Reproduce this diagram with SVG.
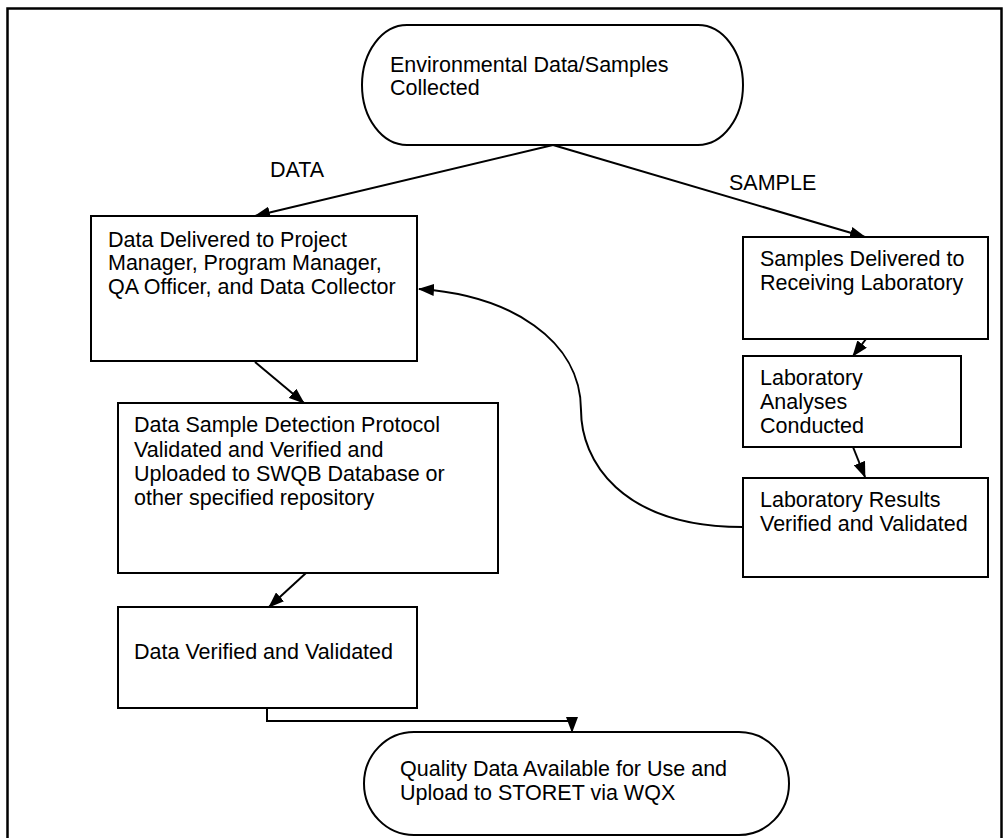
<svg xmlns="http://www.w3.org/2000/svg" width="1004" height="838" viewBox="0 0 1004 838">
  <style>
    .frame { fill: none; stroke: #000; stroke-width: 2.5; }
    .box { fill: #fff; stroke: #000; stroke-width: 2; }
    .lbl { font-family: "Liberation Sans", Arial, sans-serif; font-size: 21.5px; fill: #000; }
    .conn { fill: none; stroke: #000; stroke-width: 2; }
  </style>
  <defs>
    <marker id="arrow" markerUnits="userSpaceOnUse" markerWidth="16" markerHeight="12" refX="15" refY="6" orient="auto">
      <path d="M0,0 L16,6 L0,12 Z" fill="#000"/>
    </marker>
  </defs>

  <rect width="1004" height="838" fill="#fff"/>
  <rect class="frame" x="7.5" y="8.5" width="994" height="850"/>

  <!-- connectors -->
  <g id="connectors">
    <line class="conn" x1="553" y1="145" x2="255" y2="216" marker-end="url(#arrow)"/>
    <line class="conn" x1="553" y1="145" x2="865" y2="237" marker-end="url(#arrow)"/>
    <line class="conn" x1="866" y1="339" x2="853" y2="356" marker-end="url(#arrow)"/>
    <line class="conn" x1="853" y1="447" x2="865" y2="477" marker-end="url(#arrow)"/>
    <path class="conn" d="M743,527 C620,527 581,460 581,410 C581,340 510,295 419,289" marker-end="url(#arrow)"/>
    <line class="conn" x1="255" y1="362" x2="304" y2="403" marker-end="url(#arrow)"/>
    <line class="conn" x1="306" y1="573" x2="269" y2="607" marker-end="url(#arrow)"/>
    <path class="conn" d="M267,708 V721 H572 V732" marker-end="url(#arrow)"/>
    <text class="lbl" x="270" y="177">DATA</text>
    <text class="lbl" x="729" y="190">SAMPLE</text>
  </g>

  <g id="start">
    <rect class="box" x="362" y="25" width="381" height="120" rx="45" ry="60"/>
    <text class="lbl" x="390" y="72">Environmental Data/Samples</text>
    <text class="lbl" x="390" y="95">Collected</text>
  </g>

  <g id="data-delivered">
    <rect class="box" x="91" y="216" width="326" height="145"/>
    <text class="lbl" x="108" y="247">Data Delivered to Project</text>
    <text class="lbl" x="108" y="270">Manager, Program Manager,</text>
    <text class="lbl" x="108" y="294">QA Officer, and Data Collector</text>
  </g>

  <g id="samples-delivered">
    <rect class="box" x="743" y="237" width="245" height="102"/>
    <text class="lbl" x="760" y="266">Samples Delivered to</text>
    <text class="lbl" x="760" y="290">Receiving Laboratory</text>
  </g>

  <g id="lab-analyses">
    <rect class="box" x="743" y="356" width="218" height="91"/>
    <text class="lbl" x="760" y="385">Laboratory</text>
    <text class="lbl" x="760" y="409">Analyses</text>
    <text class="lbl" x="760" y="433">Conducted</text>
  </g>

  <g id="lab-results">
    <rect class="box" x="743" y="478" width="245" height="99"/>
    <text class="lbl" x="760" y="507">Laboratory Results</text>
    <text class="lbl" x="760" y="531">Verified and Validated</text>
  </g>

  <g id="protocol">
    <rect class="box" x="118" y="403" width="380" height="170"/>
    <text class="lbl" x="134" y="432">Data Sample Detection Protocol</text>
    <text class="lbl" x="134" y="457">Validated and Verified and</text>
    <text class="lbl" x="134" y="481">Uploaded to SWQB Database or</text>
    <text class="lbl" x="134" y="505">other specified repository</text>
  </g>

  <g id="data-verified">
    <rect class="box" x="118" y="607" width="299" height="101"/>
    <text class="lbl" x="134" y="659">Data Verified and Validated</text>
  </g>

  <g id="end">
    <rect class="box" x="364" y="732" width="425" height="103" rx="50" ry="51.5"/>
    <text class="lbl" x="400" y="776">Quality Data Available for Use and</text>
    <text class="lbl" x="400" y="800">Upload to STORET via WQX</text>
  </g>
</svg>
